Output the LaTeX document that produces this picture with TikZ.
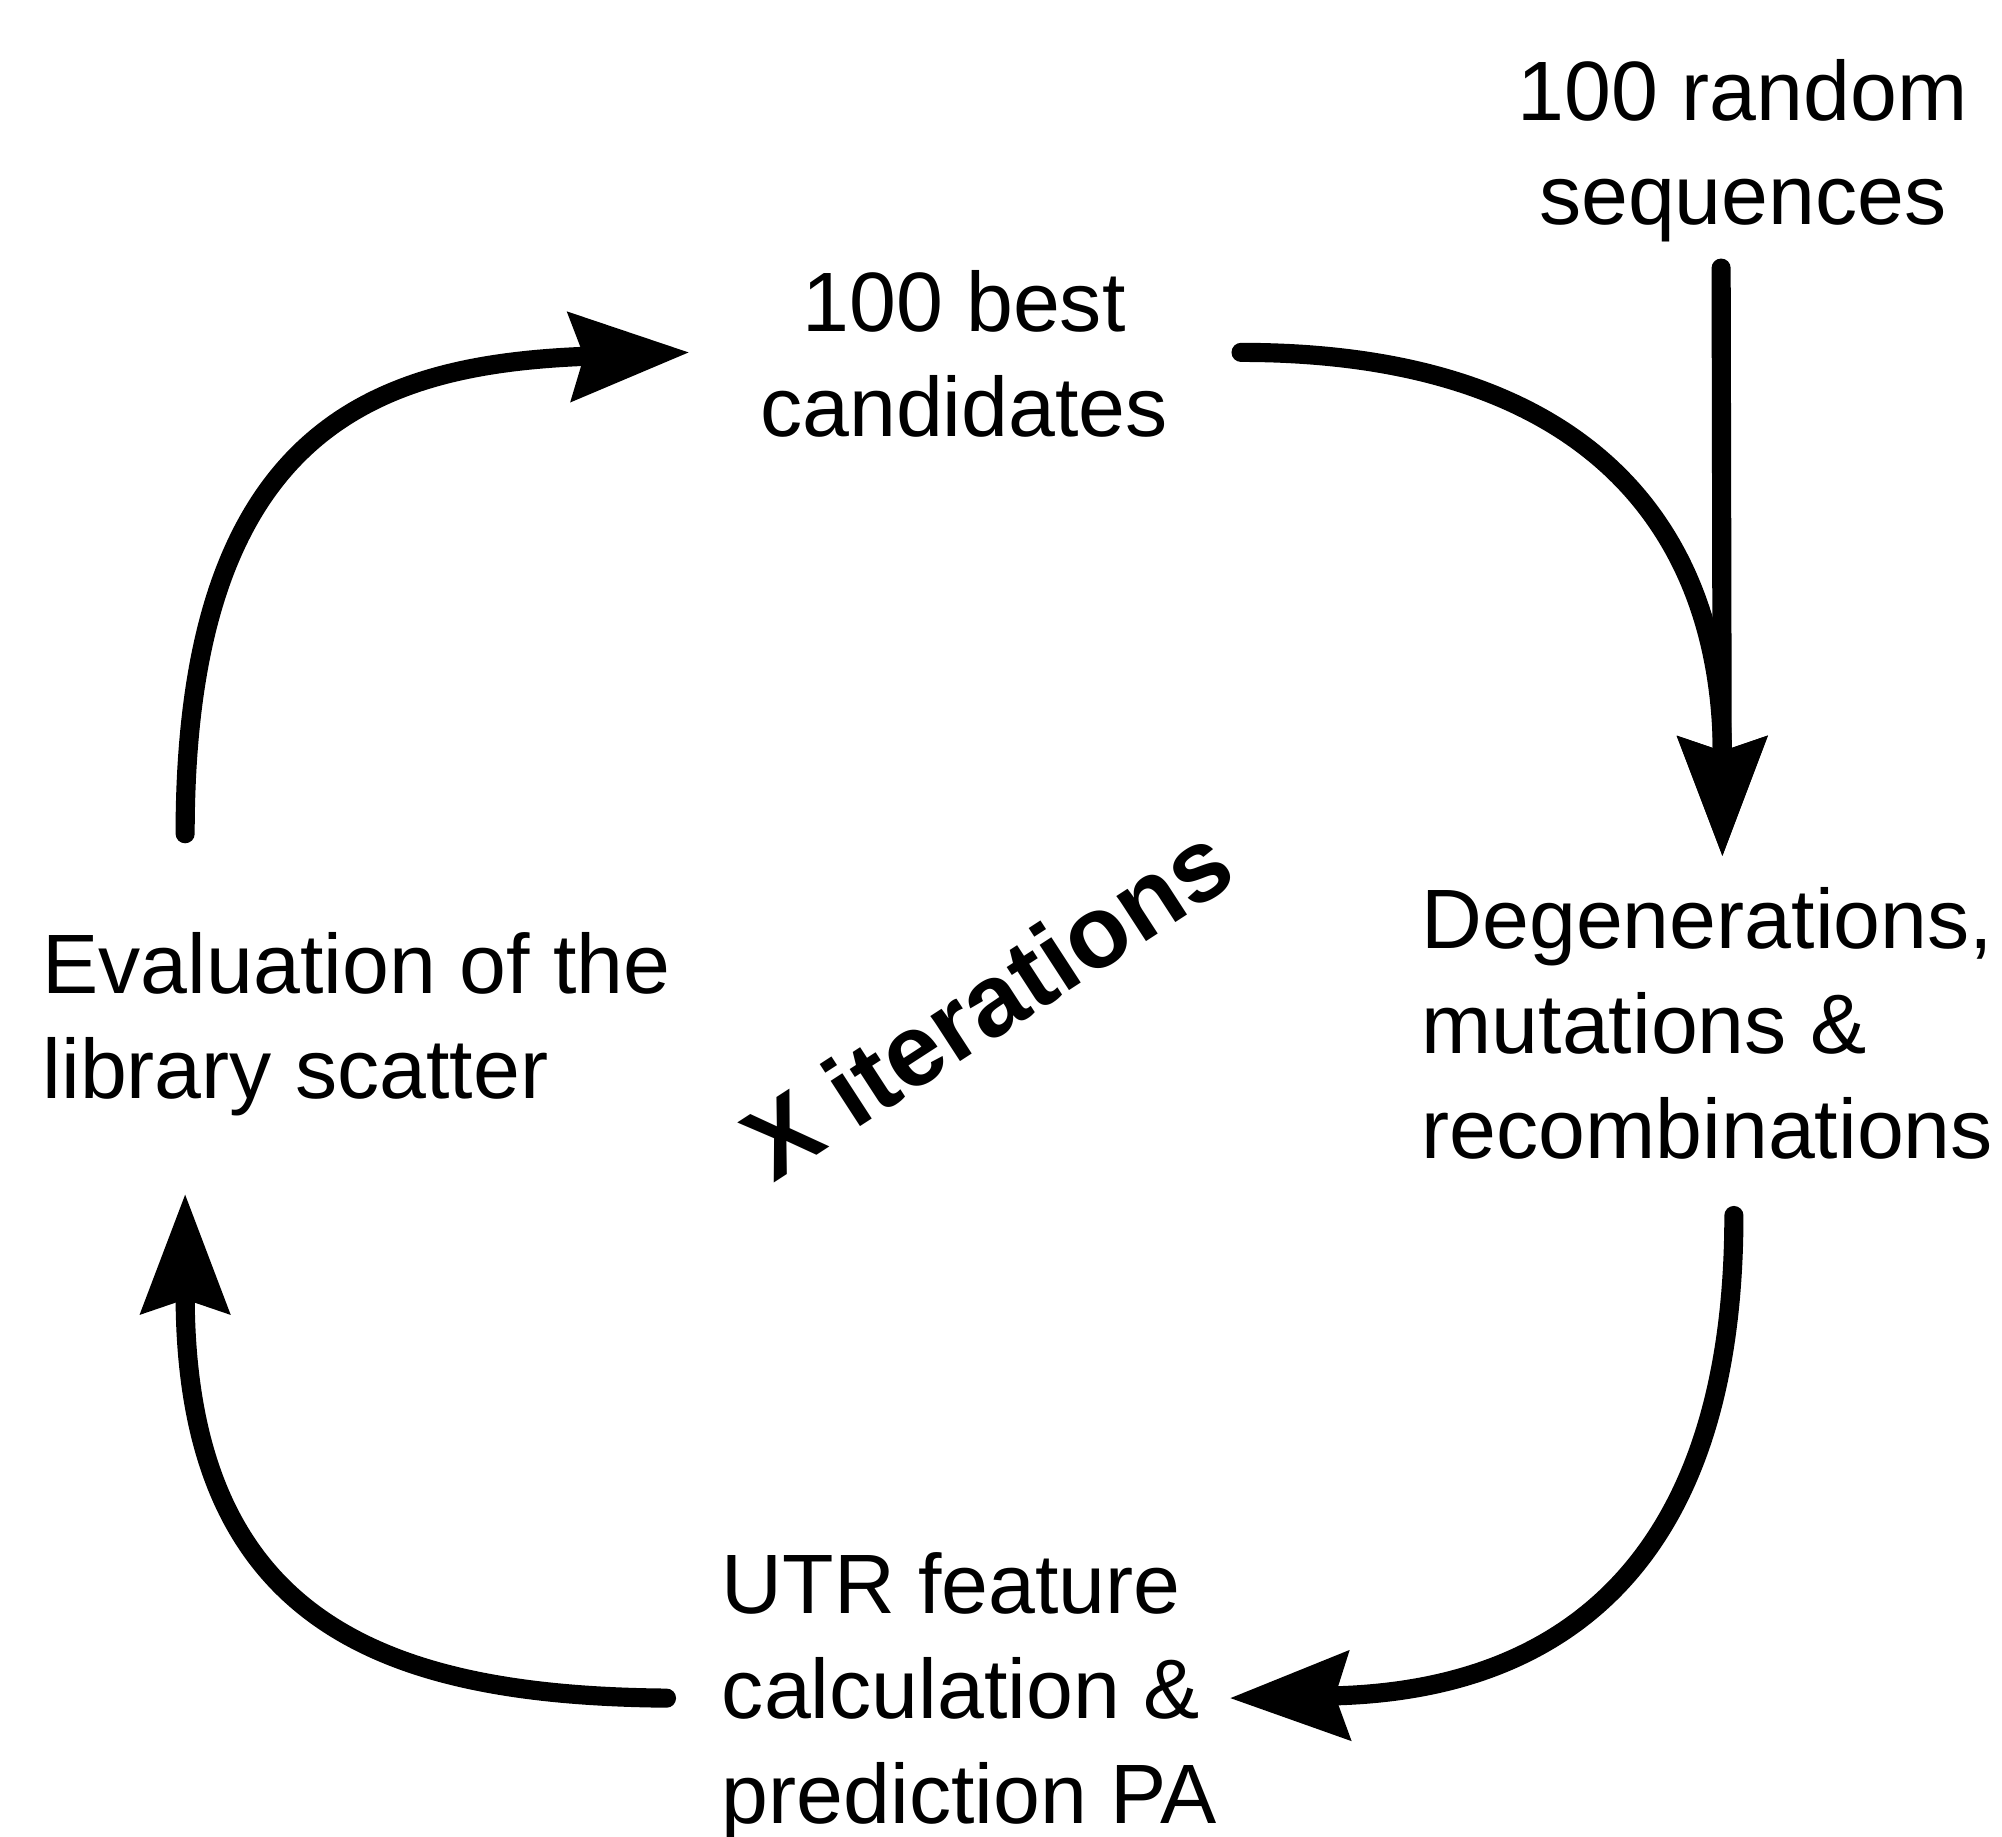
\documentclass[tikz,border=0pt]{standalone}
\usepackage{fontspec}
\setmainfont{Liberation Sans}
\usetikzlibrary{arrows.meta}
\begin{document}
\begin{tikzpicture}[x=0.5pt,y=-0.5pt,
  lbl/.style={inner sep=0pt, font=\fontsize{33}{41}\selectfont},
  loop/.style={line width=7.5pt, line cap=round,
    -{Stealth[length=46.5pt,width=34pt,inset=5.2pt]}}]
\useasboundingbox (0,0) rectangle (1568,1438);
% texts (base anchor = baseline of the last line)
\node[lbl, align=center, anchor=base] (rand) at (1365,176) {100 random\\sequences};
\node[lbl, align=center, anchor=base] (best) at (755,342) {100 best\\candidates};
\node[lbl, align=left, anchor=base west] (eval) at (33,860) {Evaluation of the\\library scatter};
\node[lbl, align=left, anchor=base west] (degen) at (1113,907) {Degenerations,\\mutations \&\\recombinations};
\node[lbl, align=left, anchor=base west] (utr) at (565,1428) {UTR feature\\calculation \&\\prediction PA};
\node[inner sep=0pt, font=\fontsize{40}{48}\selectfont\bfseries, rotate=33] (iter) at (773,784) {X iterations};
% connector ends
\coordinate (s1) at (145,653);  \coordinate (t1) at (540,276);
\coordinate (s2) at (972,276);  \coordinate (t2) at (1349,671);
\coordinate (s3) at (1348,210);
\coordinate (s4) at (1358,952); \coordinate (t4) at (963,1330);
\coordinate (s5) at (522,1330); \coordinate (t5) at (145,935);
% connectors
\draw[loop] (s1) .. controls (145,330) and (300,285) .. (t1);
\draw[loop] (s2) .. controls (1250,276) and (1349,420) .. (t2);
\draw[loop] (s3) -- (t2);
\draw[loop] (s4) .. controls (1358,1290) and (1150,1326) .. (t4);
\draw[loop] (s5) .. controls (300,1328) and (145,1270) .. (t5);
\end{tikzpicture}
\end{document}
